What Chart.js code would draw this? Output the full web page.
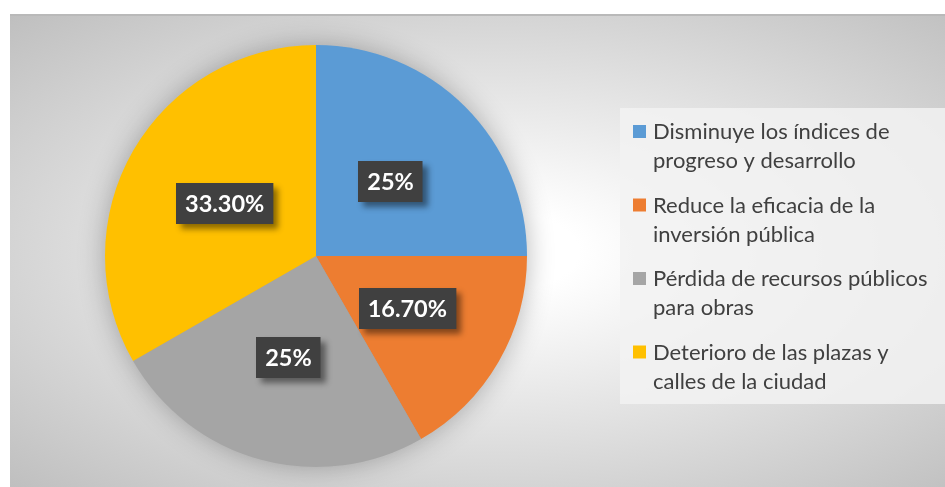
<!DOCTYPE html>
<html>
<head>
<meta charset="utf-8">
<script src="https://cdn.jsdelivr.net/npm/chart.js@4"></script>
<style>
  html, body { margin: 0; padding: 0; background: #ffffff; }
  #marco {
    position: absolute; left: 10px; top: 14px; width: 935px; height: 473px;
    box-sizing: border-box; border-top: 2px solid #b9b9b9;
    background: radial-gradient(ellipse farthest-corner at 52% 50%, #ffffff 0%, #ffffff 12%, #bfbfbf 100%);
  }
  #marco canvas { position: absolute; left: 0; top: -2px; }
</style>
</head>
<body>
<div id="marco"><canvas id="torta" width="935" height="473"></canvas></div>
<script>
  /* categorías (cada una en dos líneas, como en la leyenda original) */
  const categories = [
    ['Disminuye los índices de', 'progreso y desarrollo'],
    ['Reduce la eficacia de la', 'inversión pública'],
    ['Pérdida de recursos públicos', 'para obras'],
    ['Deterioro de las plazas y', 'calles de la ciudad']
  ];
  const values = [25, 16.7, 25, 33.3];
  const sliceColors = ['#5B9BD5', '#ED7D31', '#A5A5A5', '#FFC000'];

  const FONT = 'Lato, "Open Sans", sans-serif';

  function fmt(v) {
    return (v % 1 === 0 ? String(v) : v.toFixed(2)) + '%';
  }

  /* sombra difusa bajo la torta */
  const sombraTorta = {
    id: 'sombraTorta',
    beforeDatasetsDraw: function (chart) {
      const arc = chart.getDatasetMeta(0).data[0];
      if (!arc) return;
      const ctx = chart.ctx;
      ctx.save();
      ctx.shadowColor = 'rgba(0, 0, 0, 0.30)';
      ctx.shadowBlur = 28;
      ctx.fillStyle = '#a0a0a0';
      ctx.beginPath();
      ctx.arc(arc.x, arc.y, arc.outerRadius - 1, 0, Math.PI * 2);
      ctx.fill();
      ctx.restore();
    }
  };

  /* etiquetas de datos: caja oscura con texto blanco en negrita */
  const etiquetas = {
    id: 'etiquetas',
    afterDatasetsDraw: function (chart) {
      const ctx = chart.ctx;
      const ds = chart.data.datasets[0];
      chart.getDatasetMeta(0).data.forEach(function (arc, i) {
        const p = arc.tooltipPosition();
        const txt = fmt(ds.data[i]);
        ctx.save();
        ctx.font = 'bold 23.5px ' + FONT;
        const w = ctx.measureText(txt).width + 18;
        const h = 41;
        const x0 = Math.round(p.x - w / 2);
        const y0 = Math.round(p.y - h / 2);
        ctx.shadowColor = 'rgba(0, 0, 0, 0.45)';
        ctx.shadowBlur = 6;
        ctx.shadowOffsetX = 5;
        ctx.shadowOffsetY = 5;
        ctx.fillStyle = '#404040';
        ctx.fillRect(x0, y0, w, h);
        ctx.shadowColor = 'transparent';
        ctx.fillStyle = '#ffffff';
        ctx.textAlign = 'center';
        ctx.textBaseline = 'middle';
        ctx.fillText(txt, p.x, p.y + 1);
        ctx.restore();
      });
    }
  };

  /* leyenda a la derecha, en recuadro gris claro */
  const leyenda = {
    id: 'leyenda',
    afterDraw: function (chart) {
      const ctx = chart.ctx;
      const ds = chart.data.datasets[0];
      ctx.save();
      ctx.fillStyle = 'rgba(242, 242, 242, 0.85)';
      ctx.fillRect(610, 94, 325, 296);
      ctx.font = '22px ' + FONT;
      ctx.textBaseline = 'middle';
      chart.data.labels.forEach(function (lines, i) {
        const y = 118 + i * 73.5;
        ctx.fillStyle = ds.backgroundColor[i];
        ctx.fillRect(623, y - 7, 13, 13);
        ctx.fillStyle = '#404040';
        lines.forEach(function (t, j) {
          ctx.fillText(t, 643, y + j * 29);
        });
      });
      ctx.restore();
    }
  };

  new Chart(document.getElementById('torta'), {
    type: 'pie',
    data: {
      labels: categories,
      datasets: [{
        data: values,
        backgroundColor: sliceColors,
        borderWidth: 0,
        hoverOffset: 0
      }]
    },
    options: {
      responsive: false,
      animation: false,
      layout: { padding: { left: 95, top: 31, right: 418, bottom: 20 } },
      plugins: {
        legend: { display: false },
        tooltip: { enabled: false }
      }
    },
    plugins: [sombraTorta, etiquetas, leyenda]
  });
</script>
</body>
</html>
